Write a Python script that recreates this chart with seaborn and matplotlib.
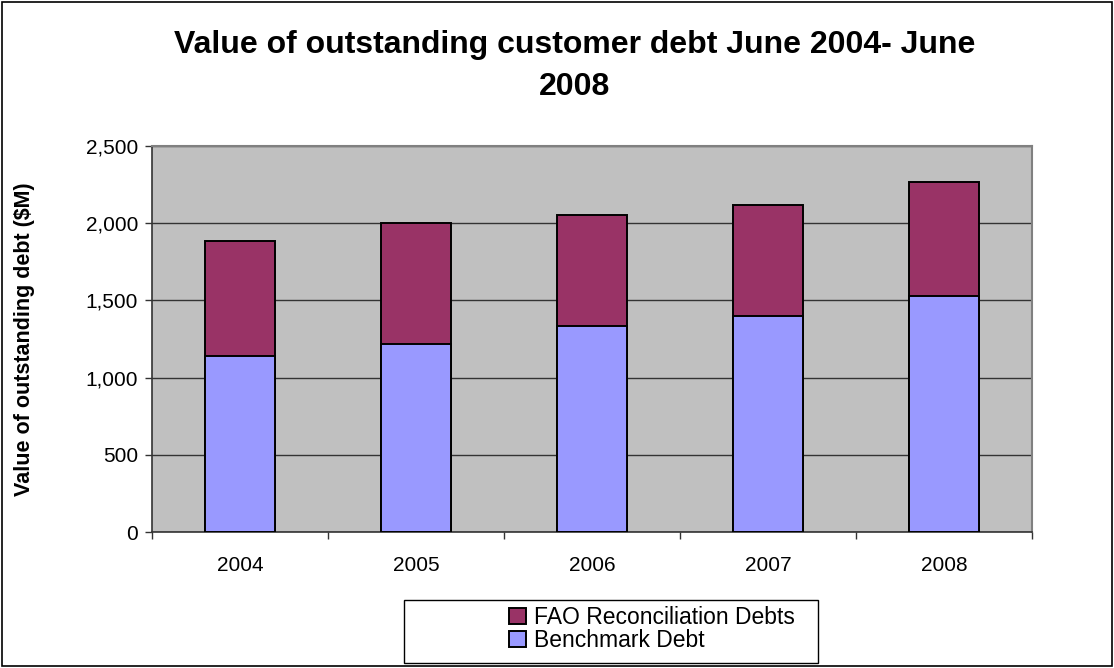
import matplotlib
matplotlib.use("Agg")
import matplotlib.pyplot as plt
from matplotlib.patches import Rectangle, Patch
from matplotlib.ticker import FuncFormatter, FixedLocator
import seaborn as sns
import pandas as pd

years = ["2004", "2005", "2006", "2007", "2008"]
benchmark = [1140, 1215, 1335, 1400, 1528]
fao = [744, 785, 718, 716, 740]
title = "Value of outstanding customer debt June 2004- June\n2008"
ylabel = "Value of outstanding debt (\\$M)"
series_names = ["FAO Reconciliation Debts", "Benchmark Debt"]

c_fao = "#993366"
c_bench = "#9999FF"

sns.set_theme(style="white")
plt.rcParams["font.family"] = ["Liberation Sans", "DejaVu Sans"]
plt.rcParams["text.color"] = "black"
plt.rcParams["axes.labelcolor"] = "black"
plt.rcParams["xtick.color"] = "black"
plt.rcParams["ytick.color"] = "black"

totals = [b + f for b, f in zip(benchmark, fao)]
df = pd.DataFrame({"year": years, "bench": benchmark, "total": totals})

fig = plt.figure(figsize=(11.14, 6.68), dpi=100)
ax = fig.add_axes([152 / 1114, 1 - 532 / 668, 880 / 1114, 386 / 668])
ax.set_facecolor("#C0C0C0")

sns.barplot(data=df, x="year", y="total", color=c_fao, saturation=1,
            width=0.4, edgecolor="black", linewidth=1.4, ax=ax, zorder=3)
sns.barplot(data=df, x="year", y="bench", color=c_bench, saturation=1,
            width=0.4, edgecolor="black", linewidth=1.4, ax=ax, zorder=4)

ax.set_xlim(-0.5, 4.5)
ax.set_ylim(0, 2500)
ax.set_yticks([0, 500, 1000, 1500, 2000, 2500])
ax.yaxis.set_major_formatter(FuncFormatter(lambda v, p: f"{int(v):,}"))
ax.yaxis.grid(True, color="#333333", linewidth=1, zorder=1)
ax.set_axisbelow(True)

ax.set_xticks(range(len(years)))
ax.set_xticklabels(years, fontsize=15)
ax.xaxis.set_minor_locator(FixedLocator([-0.5, 0.5, 1.5, 2.5, 3.5, 4.5]))
ax.tick_params(axis="x", which="major", length=0, pad=17)
ax.tick_params(axis="x", which="minor", length=5, width=1, color="#333333", direction="out", bottom=True)
ax.tick_params(axis="y", length=5, width=1, color="#333333", direction="out", left=True, labelsize=15, pad=5)
for lab in ax.get_yticklabels() + ax.get_xticklabels():
    lab.set_color("black")

for side in ["left", "bottom"]:
    ax.spines[side].set_color("#333333")
    ax.spines[side].set_linewidth(1.2)
for side in ["top", "right"]:
    ax.spines[side].set_color("#808080")
    ax.spines[side].set_linewidth(1.5)

ax.set_xlabel("")
ax.set_ylabel(ylabel, fontsize=15.5, fontweight="bold")
ax.yaxis.set_label_coords(-0.133, 0.5)

fig.text(575 / 1114, 1 - 66 / 668, title, ha="center", va="center", fontsize=23,
         fontweight="bold", linespacing=1.55)

# legend box
fig.patches.append(Rectangle((404 / 1114, 1 - 663 / 668), 414 / 1114, 63 / 668,
                             transform=fig.transFigure, facecolor="white",
                             edgecolor="black", linewidth=1, zorder=0))
handles = [Patch(facecolor=c_fao, edgecolor="black", linewidth=1.4),
           Patch(facecolor=c_bench, edgecolor="black", linewidth=1.4)]
fig.legend(handles, series_names, loc="center left",
           bbox_to_anchor=(498 / 1114, 1 - 629 / 668), frameon=False,
           fontsize=16.5, handlelength=0.7, handleheight=0.7, handletextpad=0.35,
           labelspacing=0.0, borderpad=0)

# outer figure border
fig.patches.append(Rectangle((2 / 1114, 2 / 668), 1110 / 1114, 664 / 668,
                             transform=fig.transFigure, facecolor="none",
                             edgecolor="black", linewidth=1.2, zorder=10))

fig.savefig("out.png", dpi=100)
